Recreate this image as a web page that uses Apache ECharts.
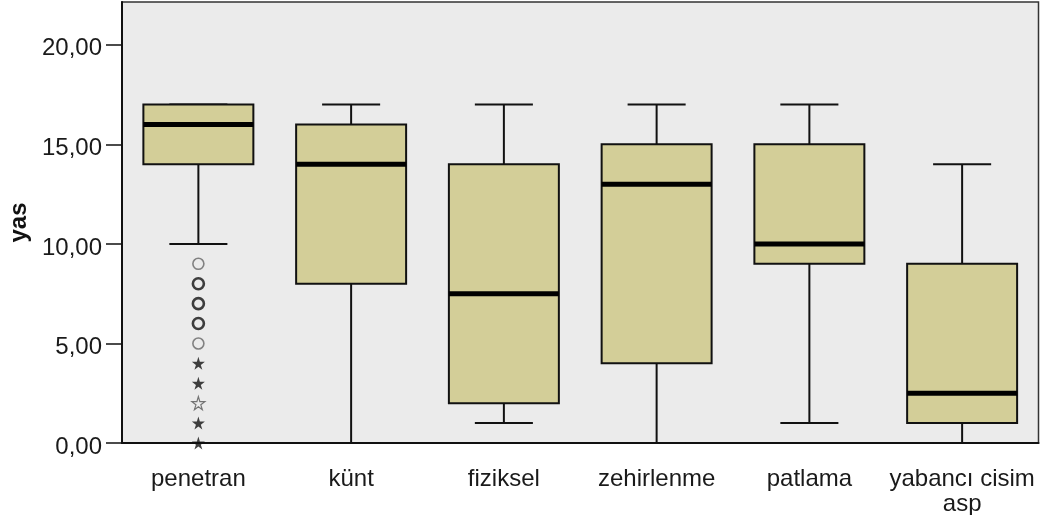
<!DOCTYPE html>
<html>
<head>
<meta charset="utf-8">
<script src="https://cdn.jsdelivr.net/npm/echarts@6/dist/echarts.min.js"></script>
<style>
  html, body { margin: 0; padding: 0; background: #fff; }
  #chart { width: 1040px; height: 515px; }
</style>
</head>
<body>
<div id="chart"></div>
<script>
// kategoriler
const categories = ['penetran', 'künt', 'fiziksel', 'zehirlenme', 'patlama', 'yabancı cisim\nasp'];

// kutu değerleri: alt bıyık, Q1, medyan, Q3, üst bıyık
const whiskerLow  = [10, 0, 1, 0, 1, 0];
const q1Values    = [14, 8, 2, 4, 9, 1];
const medians     = [16, 14, 7.5, 13, 10, 2.5];
const q3Values    = [17, 16, 14, 15, 15, 9];
const whiskerHigh = [17, 17, 17, 17, 17, 14];

// aykırı değerler (sadece penetran)
const outlierCircles = [9, 8, 7, 6, 5];
const outlierStars   = [4, 3, 2, 1, 0];
const circleDark     = [false, true, true, true, false];
const starDark       = [true, true, false, true, true];

const yTicks = [0, 5, 10, 15, 20];

const boxData = categories.map((c, i) => [i, whiskerLow[i], q1Values[i], medians[i], q3Values[i], whiskerHigh[i]]);

const starPath = 'path://M50,0 L61,35 L98,35 L68,57 L79,91 L50,70 L21,91 L32,57 L2,35 L39,35 Z';

const chartDom = document.getElementById('chart');
const chart = echarts.init(chartDom);

function renderBox(params, api) {
  const idx = api.value(0);
  const band = api.size([1, 0])[0];
  const boxW = band * 0.72;
  const capW = band * 0.38;
  const pLow = api.coord([idx, api.value(1)]);
  const pQ1 = api.coord([idx, api.value(2)]);
  const pMed = api.coord([idx, api.value(3)]);
  const pQ3 = api.coord([idx, api.value(4)]);
  const pHigh = api.coord([idx, api.value(5)]);
  const x = pQ1[0];
  const lineStyle = { stroke: '#111', lineWidth: 2, fill: null };
  return {
    type: 'group',
    children: [
      { type: 'line', shape: { x1: x, y1: pLow[1], x2: x, y2: pQ1[1] }, style: lineStyle },
      { type: 'line', shape: { x1: x, y1: pQ3[1], x2: x, y2: pHigh[1] }, style: lineStyle },
      { type: 'line', shape: { x1: x - capW / 2, y1: pLow[1], x2: x + capW / 2, y2: pLow[1] }, style: lineStyle },
      { type: 'line', shape: { x1: x - capW / 2, y1: pHigh[1], x2: x + capW / 2, y2: pHigh[1] }, style: lineStyle },
      {
        type: 'rect',
        shape: { x: x - boxW / 2, y: pQ3[1], width: boxW, height: pQ1[1] - pQ3[1] },
        style: { fill: '#d3ce98', stroke: '#111', lineWidth: 2 }
      },
      { type: 'line', shape: { x1: x - boxW / 2, y1: pMed[1], x2: x + boxW / 2, y2: pMed[1] }, style: { stroke: '#000', lineWidth: 5 } }
    ]
  };
}

chart.setOption({
  backgroundColor: '#fff',
  animation: false,
  textStyle: { fontFamily: '"Liberation Sans", Arial, sans-serif' },
  grid: {
    left: 122, right: 1.5, top: 2, bottom: 72,
    outerBoundsMode: 'none',
    show: true, backgroundColor: '#ebebeb', borderColor: '#333', borderWidth: 1.5
  },
  xAxis: {
    type: 'category',
    data: categories,
    axisLine: { lineStyle: { color: '#111', width: 2 } },
    axisTick: { alignWithLabel: true, length: 16, lineStyle: { color: '#111', width: 1.5 } },
    axisLabel: { color: '#1a1a1a', fontSize: 24, lineHeight: 25, margin: 24, interval: 0 },
    splitLine: { show: false }
  },
  yAxis: {
    type: 'value',
    min: 0, max: 22.15, interval: 5,
    name: 'yas',
    nameLocation: 'middle',
    nameGap: 87,
    nameTextStyle: { color: '#111', fontSize: 24, fontWeight: 'bold' },
    axisLine: { show: true, lineStyle: { color: '#111', width: 2 } },
    axisTick: { show: true, length: 16, customValues: yTicks, lineStyle: { color: '#111', width: 1.5 } },
    axisLabel: {
      color: '#1a1a1a', fontSize: 24, margin: 20, customValues: yTicks,
      verticalAlign: 'top', lineHeight: 8,
      formatter: v => v.toFixed(2).replace('.', ',')
    },
    splitLine: { show: false }
  },
  series: [
    {
      type: 'custom',
      renderItem: renderBox,
      data: boxData,
      encode: { x: 0, y: [1, 2, 3, 4, 5] },
      z: 2
    },
    {
      type: 'scatter',
      symbol: 'circle',
      symbolSize: 11,
      data: outlierCircles.map((v, i) => ({
        value: [0, v],
        itemStyle: { color: 'transparent', borderColor: circleDark[i] ? '#111' : '#666', borderWidth: circleDark[i] ? 2.6 : 1.6 }
      })),
      z: 3
    },
    {
      type: 'scatter',
      symbol: starPath,
      symbolSize: 13,
      data: outlierStars.map((v, i) => ({
        value: [0, v],
        itemStyle: starDark[i] ? { color: '#111' } : { color: 'transparent', borderColor: '#555', borderWidth: 1.2 }
      })),
      z: 3
    }
  ]
});
</script>
</body>
</html>
